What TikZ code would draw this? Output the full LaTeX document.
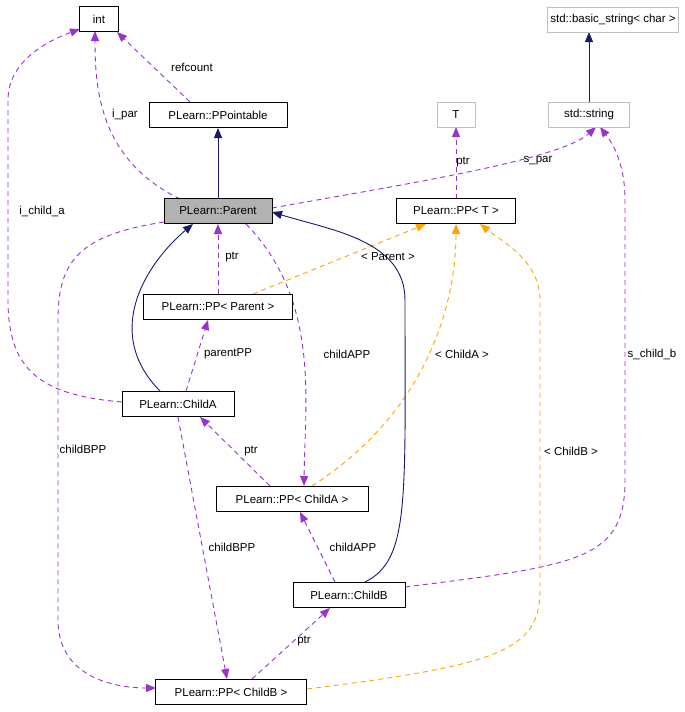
\documentclass[tikz,border=0pt]{standalone}
\usepackage{fontspec}
\setmainfont{Liberation Sans}
\usetikzlibrary{arrows.meta}
\definecolor{pur}{HTML}{9A32CD}
\definecolor{org}{HTML}{FFA500}
\definecolor{nav}{HTML}{191970}
\begin{document}
\begin{tikzpicture}[x=1pt,y=-1pt,line width=0.9pt,
 every node/.style={font=\fontsize{11.5}{13}\selectfont},
 box/.style={draw=black,fill=white,minimum height=25pt,inner xsep=3pt,anchor=center},
 gbox/.style={box,draw=black!25},
 lab/.style={fill=none,draw=none},
 dp/.style={-{Triangle[length=10pt,width=8pt,fill=pur]},draw=pur,dash pattern=on 5pt off 4pt},
 dor/.style={-{Triangle[length=10pt,width=8pt,fill=org]},draw=org,dash pattern=on 5pt off 4pt},
 sn/.style={-{Triangle[length=10pt,width=8pt,fill=nav]},draw=nav}]
\useasboundingbox (0,0) rectangle (685,712);
\draw[sn] (218,199) -- (218,128);
\draw[sn] (589,103) -- (589,32);
\draw[dp] (180,199) .. controls (100,160) and (95,90) .. (95,31);
\draw[dp] (190,102) -- (117,32);
\draw[dp] (272,208) .. controls (400,185) and (560,160) .. (596,127);
\draw[dp] (456,199) -- (456,127);
\draw[dp] (122,402) .. controls (40,395) and (8,370) .. (8,300) -- (8,100) .. controls (8,60) and (50,40) .. (80,29);
\draw[dp] (164,222) .. controls (80,235) and (58,260) .. (58,320) -- (58,620) .. controls (58,680) and (120,688) .. (156,688);
\draw[dp] (218,294) -- (218,224);
\draw[dor] (253,294) -- (426,224);
\draw[sn] (160,391) .. controls (100,330) and (150,260) .. (193,224);
\draw[dp] (186,391) -- (208,320);
\draw[dp] (246,224) .. controls (320,300) and (305,400) .. (304,486);
\draw[dp] (270,486) -- (200,417);
\draw[dor] (312,486) .. controls (430,410) and (456,300) .. (456,224);
\draw[sn] (365,582) .. controls (410,560) and (405,500) .. (405,300) .. controls (405,240) and (330,230) .. (272,212);
\draw[dp] (405,587) .. controls (580,565) and (625,560) .. (625,480) -- (625,200) .. controls (625,160) and (610,140) .. (600,127);
\draw[dp] (178,417) -- (227,679);
\draw[dp] (335,582) -- (300,512);
\draw[dp] (252,679) -- (330,608);
\draw[dor] (307,689) .. controls (500,665) and (540,650) .. (540,590) -- (540,300) .. controls (540,260) and (500,240) .. (480,224);

\node[box,minimum width=39pt] (int) at (99,19) {int};
\node[gbox,minimum width=113pt] (bs) at (613,20) {std::basic\_string< char >};
\node[box,minimum width=138pt] (ppt) at (218,115) {PLearn::PPointable};
\node[gbox,minimum width=38pt] (T) at (456,115) {T};
\node[gbox,minimum width=81pt] (str) at (589,115) {std::string};
\node[box,fill=black!30,minimum width=108pt] (par) at (218,211) {PLearn::Parent};
\node[box,minimum width=119pt] (ppT) at (456,211) {PLearn::PP< T >};
\node[box,minimum width=149pt] (ppP) at (218,307) {PLearn::PP< Parent >};
\node[box,minimum width=112pt] (ca) at (178,404) {PLearn::ChildA};
\node[box,minimum width=152pt] (ppA) at (292,499) {PLearn::PP< ChildA >};
\node[box,minimum width=112pt] (cb) at (349,595) {PLearn::ChildB};
\node[box,minimum width=151pt] (ppB) at (231,692) {PLearn::PP< ChildB >};

\node[lab] at (125,115) {i\_par};
\node[lab] at (192,67) {refcount};
\node[lab] at (538,161) {s\_par};
\node[lab] at (463,162) {ptr};
\node[lab] at (42,211) {i\_child\_a};
\node[lab] at (83,449) {childBPP};
\node[lab] at (232,257) {ptr};
\node[lab] at (388,257) {< Parent >};
\node[lab] at (228,354) {parentPP};
\node[lab] at (347,354) {childAPP};
\node[lab] at (251,451) {ptr};
\node[lab] at (462,354) {< ChildA >};
\node[lab] at (652,354) {s\_child\_b};
\node[lab] at (232,547) {childBPP};
\node[lab] at (353,547) {childAPP};
\node[lab] at (304,641) {ptr};
\node[lab] at (571,451) {< ChildB >};
\end{tikzpicture}
\end{document}
